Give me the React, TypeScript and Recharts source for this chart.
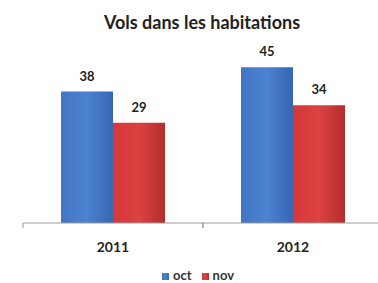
import React from 'react';
import { BarChart, Bar, XAxis, YAxis, Legend, LabelList } from 'recharts';

const years = ['2011', '2012'];
const octValues = [38, 45];
const novValues = [29, 34];
const seriesOrder = ['oct', 'nov'];

const data = years.map((year, i) => ({ year, oct: octValues[i], nov: novValues[i] }));

const font = 'Lato, "Open Sans", sans-serif';
const BAND = 180;

// year label plus the small separator ticks at the band edges
const YearTick = (props: any) => {
  const { x, y, payload } = props;
  return (
    <g>
      <line x1={x - BAND / 2} y1={y} x2={x - BAND / 2} y2={y + 5} stroke="#9a9a9a" />
      <line x1={x + BAND / 2} y1={y} x2={x + BAND / 2} y2={y + 5} stroke="#9a9a9a" />
      <text x={x} y={y + 29} textAnchor="middle" fill="#222" fontSize={14} fontWeight={700} fontFamily={font}>
        {payload.value}
      </text>
    </g>
  );
};

const App: React.FC = () => {
  return (
    <div style={{ position: 'absolute', left: 0, top: 0, width: 378, height: 283, overflow: 'hidden', background: '#fff', fontFamily: font }}>
      <div
        style={{
          position: 'absolute',
          left: 0,
          width: 404,
          top: 11,
          textAlign: 'center',
          fontSize: 18,
          fontWeight: 700,
          color: '#222',
        }}
      >
        Vols dans les habitations
      </div>
      <BarChart
        width={390}
        height={283}
        data={data}
        margin={{ top: 50, right: 7, left: 23, bottom: 12 }}
        barCategoryGap={38}
        barGap={0}
      >
        <defs>
          <linearGradient id="gBlue" x1="0" y1="0" x2="1" y2="0">
            <stop offset="0%" stopColor="#4276c4" />
            <stop offset="50%" stopColor="#4c82d0" />
            <stop offset="100%" stopColor="#3666b4" />
          </linearGradient>
          <linearGradient id="gRed" x1="0" y1="0" x2="1" y2="0">
            <stop offset="0%" stopColor="#d53838" />
            <stop offset="50%" stopColor="#dc4242" />
            <stop offset="100%" stopColor="#b32c2c" />
          </linearGradient>
        </defs>
        <XAxis
          dataKey="year"
          stroke="#9a9a9a"
          tickLine={false}
          tickSize={0}
          tickMargin={0}
          height={32}
          tick={<YearTick />}
        />
        <YAxis hide domain={[0, 50]} />
        <Legend
          iconType="square"
          iconSize={7}
          itemSorter={(item: any) => seriesOrder.indexOf(item.value)}
          wrapperStyle={{ bottom: 0, fontSize: 13, fontWeight: 700, fontFamily: font }}
          formatter={(value) => <span style={{ color: '#333' }}>{value}</span>}
        />
        <Bar dataKey="oct" fill="url(#gBlue)" legendType="square" isAnimationActive={false}>
          <LabelList dataKey="oct" position="top" offset={11} fill="#222" fontSize={13} fontWeight={700} fontFamily={font} />
        </Bar>
        <Bar dataKey="nov" fill="url(#gRed)" legendType="square" isAnimationActive={false}>
          <LabelList dataKey="nov" position="top" offset={11} fill="#222" fontSize={13} fontWeight={700} fontFamily={font} />
        </Bar>
      </BarChart>
    </div>
  );
};

export default App;
